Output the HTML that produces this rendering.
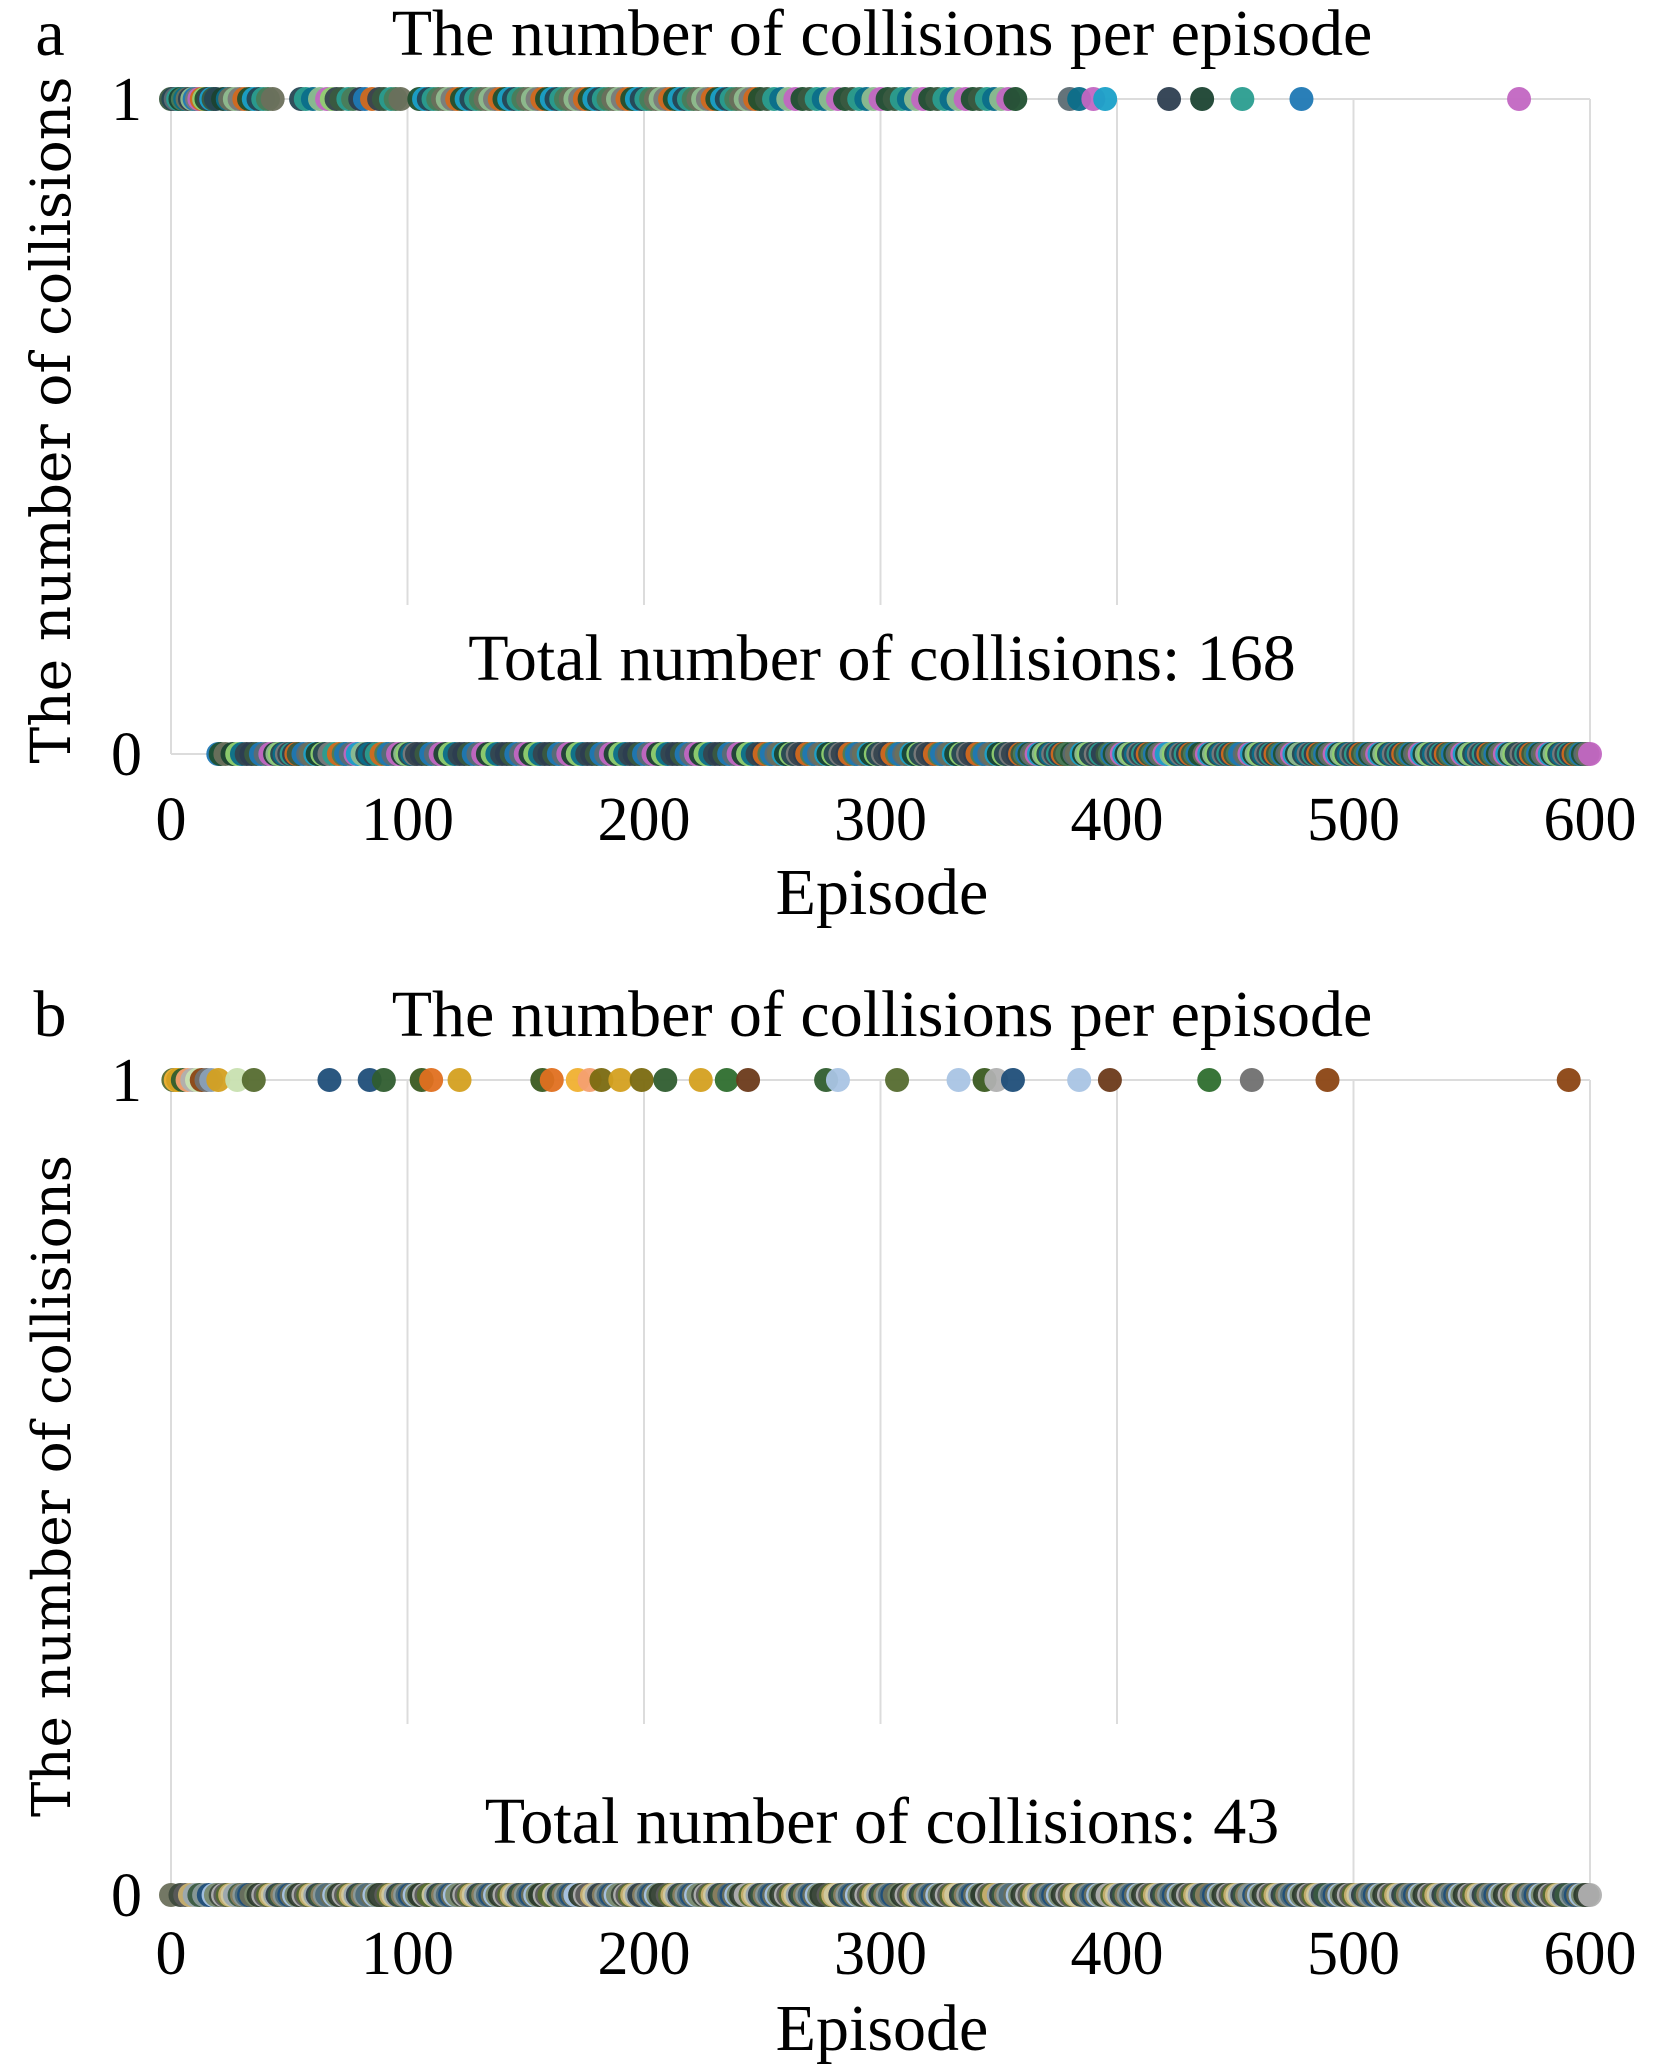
<!DOCTYPE html>
<html><head><meta charset="utf-8">
<style>
html,body{margin:0;padding:0;background:#fff;}
svg{display:block;}
text{font-family:"Liberation Serif","DejaVu Serif",serif;fill:#000;}
</style></head>
<body>
<svg id="chart" width="1654" height="2070" viewBox="0 0 1654 2070" xmlns="http://www.w3.org/2000/svg">
</svg>
<script>
// Panel a: episodes with a collision (value 1); all others are 0
const collisionsA = [0,1,2,3,4,5,6,7,8,9,10,11,12,13,14,15,16,17,18,19,22,24,25,27,29,31,33,35,37,39,41,43,
55,57,60,63,66,68,70,72,75,77,80,82,85,88,90,93,95,97,
105,107,109,111,113,115,117,119,121,123,125,127,129,131,133,135,137,139,141,143,145,147,149,151,153,155,157,159,161,163,165,167,169,171,173,175,177,179,181,183,185,187,189,191,193,195,197,199,
201,203,205,207,209,211,213,215,217,219,221,223,225,227,229,231,233,235,237,239,241,243,245,247,249,
252,255,258,261,264,267,270,273,276,279,282,285,288,291,294,297,300,303,306,309,312,315,318,321,324,327,330,333,336,339,342,345,348,351,354,357,
380,384,390,395,422,436,453,478,570];
// Panel b
const collisionsB = [1,2,3,5,7,9,11,13,15,17,20,28,35,67,84,90,106,110,122,157,161,172,177,182,190,199,209,224,235,244,277,282,307,333,344,349,356,384,397,439,457,489,591];
const xTicks = [0,100,200,300,400,500,600];
const yTicks = [0,1];
const totalA = "168";
const totalB = "43";

const paletteA = ['#3a5a40','#264653','#5c6b73','#2a9d8f','#1b4332','#4a7c59','#0b6e8a','#6b705c','#2d3e50','#8fbc8f','#1f78b4','#7a7a7a','#c266c2','#d2691e','#90d070','#205030','#36454f','#1aa0c8'];
const paletteB = ['#6b705c','#556b2f','#8a9a9a','#3e4a3d','#2f3e46','#a9c4e4','#c8b070','#4f6d7a','#b0b0b0','#3a5a40','#7a8b6f','#d0c8a0','#1f4e79','#5a5a5a','#8a8060','#2b3a2b','#9aa8b0'];
const paletteB1 = ['#8aa0b8','#556b2f','#f0b030','#d4a020','#3a5a20','#2f5d2f','#6b3a1a','#f4a070','#e07020','#b0b0b0','#a9c4e4','#c8e0b0','#7a6a10','#8b4513','#2e6e2e','#707070','#1f4e79'];

const svg = document.getElementById('chart');
const NS = 'http://www.w3.org/2000/svg';
function mk(tag, attrs, parent){
  const e = document.createElementNS(NS, tag);
  for (const k in attrs) e.setAttribute(k, attrs[k]);
  (parent||svg).appendChild(e);
  return e;
}
const X0 = 171, X1 = 1590;
function xScale(v){ return X0 + (v/600)*(X1-X0); }

function panel(cfg){
  const g = mk('g', {});
  
  
  const yS = v => cfg.y0 + (cfg.y1 - cfg.y0)*v;
  xTicks.forEach(t => {
    const full = (t===0 || t>=500);
    const l = mk('line', {x1:xScale(t), x2:xScale(t), y1:yS(1), y2: full ? yS(0) : cfg.gridStop, stroke:'#dcdcdc','stroke-width':2}, g);
    
    
  });
  yTicks.forEach(t => {
    const l = mk('line', {x1:X0, x2:X1, y1:yS(t), y2:yS(t), stroke:'#dcdcdc','stroke-width':2}, g);
    
    
  });
  const set = new Set(cfg.data);
  for (let ep=0; ep<=600; ep++){
    const hit = set.has(ep);
    const col = hit ? cfg.pal1[ep % cfg.pal1.length] : cfg.pal0[(ep*5) % cfg.pal0.length];
    const c = mk('circle', {cx:xScale(ep), cy:yS(hit?1:0), r:12, fill:col, 'fill-opacity':0.95}, g);
    
    
  }
  xTicks.forEach(t => {
    const tx = mk('text', {x:xScale(t), y:cfg.xTickY, 'font-size':62, 'text-anchor':'middle'}, g);
    tx.textContent = t;
    
    
  });
  yTicks.forEach(t => {
    const tx = mk('text', {x:142, y:yS(t)+21, 'font-size':62, 'text-anchor':'end'}, g);
    tx.textContent = t;
    
    
  });
  const ti = mk('text', {x:882, y:cfg.titleY, 'font-size':66, 'text-anchor':'middle'}, g);
  ti.textContent = 'The number of collisions per episode';
  
  
  const pl = mk('text', {x:50, y:cfg.titleY, 'font-size':66, 'text-anchor':'middle'}, g);
  pl.textContent = cfg.letter;
  
  
  const tot = mk('text', {x:882, y:cfg.totalY, 'font-size':66, 'text-anchor':'middle'}, g);
  tot.textContent = 'Total number of collisions: ' + cfg.total;
  
  
  const ex = mk('text', {x:882, y:cfg.xTitleY, 'font-size':66, 'text-anchor':'middle'}, g);
  ex.textContent = 'Episode';
  
  
  const yt = mk('text', {x:0, y:0, 'font-size':cfg.yFont, 'text-anchor':'middle', transform:'translate(70,'+cfg.yTitleC+') rotate(-90)', style:'font-family:"DejaVu Serif",serif'}, g);
  yt.textContent = 'The number of collisions';
  
  
}

panel({name:'panel-a', letter:'a', data:collisionsA, total:totalA, pal1:paletteA, pal0:paletteA,
  y0:754, y1:99, gridStop:605, titleY:55, totalY:680, xTickY:840, xTitleY:914, yTitleC:420, yFont:55});
panel({name:'panel-b', letter:'b', data:collisionsB, total:totalB, pal1:paletteB1, pal0:paletteB,
  y0:1895, y1:1080, gridStop:1724, titleY:1036, totalY:1843, xTickY:1974, xTitleY:2050, yTitleC:1486, yFont:53});
</script>
</body></html>
